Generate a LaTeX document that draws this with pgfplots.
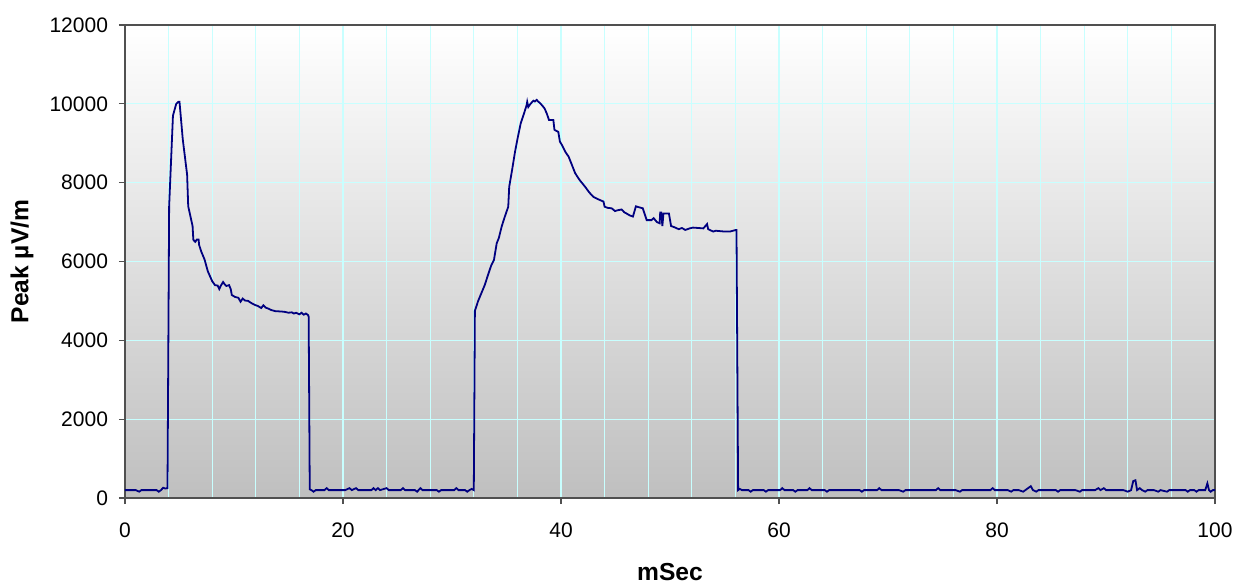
\documentclass[border=0pt]{standalone}
\usepackage{pgfplots}
\pgfplotsset{compat=1.18}
\usepackage{fontspec}
\setmainfont{Liberation Sans}
\definecolor{gridcyan}{RGB}{200,255,255}
\definecolor{navyline}{RGB}{0,0,128}
\definecolor{axgray}{RGB}{80,80,80}
\begin{document}
\begin{tikzpicture}
\begin{axis}[
  scale only axis,
  width=545bp, height=236.5bp,
  xmin=0, xmax=100, ymin=0, ymax=12000,
  xtick={0,20,...,100},
  minor xtick={4,8,...,96},
  ytick={0,2000,...,12000},
  xmajorgrids, xminorgrids, ymajorgrids,
  grid style={draw=gridcyan, line width=0.6pt},
  minor grid style={draw=gridcyan, line width=0.6pt},
  minor tick length=0pt,
  major tick length=3bp,
  tick align=outside,
  xtick pos=bottom, ytick pos=left,
  tick style={draw=axgray, line width=0.6pt},
  axis line style={draw=axgray, line width=1pt},
  axis background/.style={top color=white, bottom color=gray!50},
  scaled y ticks=false, scaled x ticks=false,
  /pgf/number format/assume math mode=true,
  /pgf/number format/1000 sep={},
  ticklabel style={font=\fontsize{10.5bp}{12bp}\selectfont},
  xticklabel style={yshift=-6bp},
  yticklabel style={xshift=-2bp},
  xlabel={mSec}, ylabel={Peak µV/m},
  label style={font=\fontsize{12.3bp}{14bp}\selectfont\bfseries},
  xlabel style={at={(axis description cs:0.5,-0.156)}, anchor=center},
  ylabel style={at={(axis description cs:-0.0945,0.5)}, anchor=center},
]
\addplot[navyline, line width=0.9pt] coordinates {
(0,200)(0.6,200)(1.0,200)(1.3,160)(1.5,200)(2.2,200)(2.9,200)(3.1,160)(3.3,200)(3.5,260)(3.7,240)(3.9,250)
(4.05,7400)(4.4,9700)(4.7,10000)(4.9,10050)(5.0,10050)(5.3,9100)(5.7,8200)(5.8,7400)(6.2,6900)(6.27,6550)
(6.45,6500)(6.6,6560)(6.75,6560)(6.8,6420)(7.0,6250)(7.3,6050)(7.6,5750)(8.0,5500)(8.26,5400)(8.5,5390)
(8.65,5300)(8.8,5390)(9.0,5480)(9.15,5420)(9.3,5380)(9.55,5400)(9.7,5300)(9.8,5150)(10.1,5100)(10.4,5080)
(10.6,4980)(10.8,5060)(11.0,5010)(11.3,5000)(11.5,4960)(11.9,4900)(12.2,4870)(12.5,4820)(12.7,4890)
(12.9,4830)(13.2,4800)(13.4,4770)(13.8,4740)(14.4,4730)(14.7,4720)(15.0,4700)(15.3,4710)(15.5,4680)
(15.7,4700)(16.0,4660)(16.2,4700)(16.4,4650)(16.6,4680)(16.8,4640)(16.85,4600)(16.95,220)(17.1,200)
(17.3,160)(17.5,200)(18.3,200)(18.5,250)(18.7,200)(19.6,200)(20.2,200)(20.6,250)(20.8,200)(21.2,250)
(21.4,200)(22.6,200)(22.8,250)(23.0,200)(23.2,250)(23.4,200)(24.0,250)(24.2,200)(25.3,200)(25.5,250)
(25.7,200)(26.6,200)(26.8,160)(27.1,250)(27.3,200)(28.6,200)(28.8,160)(29.0,200)(30.2,200)(30.4,250)
(30.6,200)(31.2,200)(31.4,160)(31.6,200)(31.8,230)(32.0,200)
(32.1,4750)(32.4,5000)(32.7,5200)(33.0,5400)(33.4,5740)(33.6,5900)(33.85,6040)(34.1,6460)(34.3,6600)
(34.55,6880)(34.8,7100)(35.16,7390)(35.25,7900)(35.5,8300)(35.78,8780)(36.0,9100)(36.3,9500)(36.6,9750)
(36.85,9970)(36.9,10050)(37.0,9920)(37.2,10000)(37.47,10080)(37.6,10060)(37.77,10100)(37.9,10060)
(38.07,10020)(38.3,9950)(38.5,9880)(38.7,9750)(38.9,9590)(39.3,9590)(39.4,9340)(39.75,9290)(39.9,9040)
(40.1,8950)(40.4,8780)(40.7,8660)(41.0,8450)(41.3,8240)(41.7,8070)(42.2,7900)(42.6,7750)(42.97,7640)
(43.4,7580)(43.9,7520)(44.0,7390)(44.3,7360)(44.65,7350)(44.95,7280)(45.2,7300)(45.56,7320)(45.8,7250)
(46.0,7220)(46.3,7170)(46.6,7140)(46.87,7400)(47.1,7380)(47.5,7350)(47.86,7050)(48.3,7050)(48.5,7100)
(48.8,7000)(49.05,6970)(49.1,7240)(49.2,7240)(49.3,6900)(49.4,7220)(49.9,7220)(50.1,6900)(50.4,6870)
(50.8,6820)(51.1,6850)(51.4,6800)(51.8,6840)(52.1,6860)(52.6,6850)(53.06,6840)(53.4,6950)(53.5,6820)
(53.96,6760)(54.2,6780)(54.6,6770)(55.0,6760)(55.5,6760)(56.05,6800)(56.1,6800)(56.25,200)(56.4,230)
(56.6,200)(57.2,200)(57.4,160)(57.6,200)(58.6,200)(58.8,160)(59.0,200)(60.1,200)(60.3,250)(60.5,200)
(61.3,200)(61.5,160)(61.7,200)(62.6,200)(62.8,250)(63.0,200)(64.2,200)(64.4,160)(64.6,200)(66.0,200)
(67.4,200)(67.6,160)(67.8,200)(69.0,200)(69.2,250)(69.4,200)(71.0,200)(71.4,160)(71.6,200)(73.0,200)
(74.4,200)(74.6,250)(74.8,200)(76.2,200)(76.6,160)(76.8,200)(78.0,200)(79.4,200)(79.6,250)(79.8,200)
(81.0,200)(81.3,160)(81.5,200)(82.0,200)(82.4,160)(82.6,200)(83.1,300)(83.3,200)(83.6,160)(83.8,200)
(85.4,200)(85.6,160)(85.8,200)(87.2,200)(87.6,160)(87.8,200)(89.0,200)(89.3,250)(89.5,200)(89.8,250)
(90.0,200)(91.6,200)(92.0,160)(92.3,200)(92.5,430)(92.7,450)(92.85,200)(93.1,250)(93.3,200)(93.6,160)
(93.8,200)(94.4,200)(94.8,160)(95.0,200)(95.6,160)(95.8,200)(97.3,200)(97.5,160)(97.7,200)(98.1,200)
(98.3,160)(98.5,200)(99.1,200)(99.3,370)(99.45,200)(99.6,160)(99.8,200)(100,200)
};
\end{axis}
\pgfresetboundingbox
\path (current axis.south west) ++(-62.5bp,-43.5bp) coordinate (bbA);
\path (current axis.north east) ++(16.5bp,12.5bp) coordinate (bbB);
\path (bbA) rectangle (bbB);
\end{tikzpicture}
\end{document}
